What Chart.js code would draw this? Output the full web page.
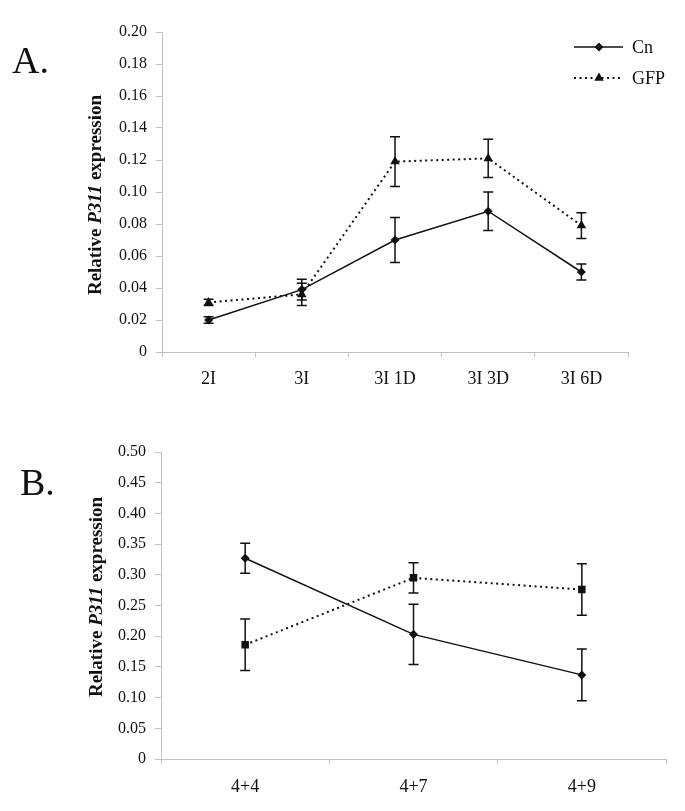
<!DOCTYPE html>
<html>
<head>
<meta charset="utf-8">
<script src="https://cdn.jsdelivr.net/npm/chart.js@4.4.0/dist/chart.umd.min.js"></script>
<style>
html,body{margin:0;padding:0;background:#fff;overflow:hidden;width:685px;height:811px}
#wa{position:absolute;left:0;top:0;width:685px;height:400px}
#wb{position:absolute;left:0;top:400px;width:685px;height:411px}
</style>
</head>
<body>
<div id="wa"><canvas id="ca"></canvas></div>
<div id="wb"><canvas id="cb"></canvas></div>
<script>
// ---------- DATA ----------
const seriesNames = ['Cn', 'GFP'];
const yTitleParts = ['Relative ', 'P311', ' expression'];
const panelLabels = ['A.', 'B.'];

const categoriesA = ['2I', '3I', '3I 1D', '3I 3D', '3I 6D'];
const cnA      = [0.020, 0.039, 0.070, 0.088, 0.050];
const cnAErr   = [0.002, 0.0065, 0.014, 0.012, 0.005];
const gfpA     = [0.031, 0.036, 0.119, 0.121, 0.079];
const gfpAErr  = [0.002, 0.007, 0.0155, 0.012, 0.008];
const yTicksA      = [0, 0.02, 0.04, 0.06, 0.08, 0.10, 0.12, 0.14, 0.16, 0.18, 0.20];
const yTickLabelsA = ['0', '0.02', '0.04', '0.06', '0.08', '0.10', '0.12', '0.14', '0.16', '0.18', '0.20'];

const categoriesB = ['4+4', '4+7', '4+9'];
const cnB      = [0.327, 0.203, 0.137];
const cnBErr   = [0.0245, 0.049, 0.042];
const gfpB     = [0.186, 0.295, 0.276];
const gfpBErr  = [0.042, 0.0245, 0.042];
const yTicksB      = [0, 0.05, 0.10, 0.15, 0.20, 0.25, 0.30, 0.35, 0.40, 0.45, 0.50];
const yTickLabelsB = ['0', '0.05', '0.10', '0.15', '0.20', '0.25', '0.30', '0.35', '0.40', '0.45', '0.50'];

// ---------- STYLE ----------
const SERIF = "'Liberation Serif', 'Times New Roman', serif";
const AXIS = '#c0c0c0';
const INK = '#111';

const errorBarPlugin = {
  id: 'errorBars',
  afterDatasetsDraw(chart) {
    const ctx = chart.ctx, xs = chart.scales.x, ys = chart.scales.y;
    chart.data.datasets.forEach(ds => {
      if (!ds.errors) return;
      ctx.save();
      ctx.strokeStyle = INK; ctx.lineWidth = 1.5; ctx.setLineDash([]);
      ds.data.forEach((v, i) => {
        const e = ds.errors[i];
        const x = xs.getPixelForValue(i);
        const y1 = ys.getPixelForValue(v + e), y2 = ys.getPixelForValue(v - e);
        ctx.beginPath();
        ctx.moveTo(x, y1); ctx.lineTo(x, y2);
        ctx.moveTo(x - 5, y1); ctx.lineTo(x + 5, y1);
        ctx.moveTo(x - 5, y2); ctx.lineTo(x + 5, y2);
        ctx.stroke();
      });
      ctx.restore();
    });
  }
};

const annotPlugin = {
  id: 'annot',
  afterDraw(chart, args, opts) {
    const ctx = chart.ctx;
    ctx.save();
    // panel label
    ctx.fillStyle = INK;
    ctx.font = '38px ' + SERIF;
    ctx.textBaseline = 'alphabetic';
    ctx.textAlign = 'left';
    ctx.fillText(opts.label, opts.labelX, opts.labelY);
    // y title with italic gene name
    const fonts = ['bold 19px ' + SERIF, 'italic bold 19px ' + SERIF, 'bold 19px ' + SERIF];
    let total = 0;
    const widths = yTitleParts.map((t, i) => { ctx.font = fonts[i]; const w = ctx.measureText(t).width; total += w; return w; });
    ctx.translate(opts.titleX, opts.titleY);
    ctx.rotate(-Math.PI / 2);
    ctx.textBaseline = 'middle';
    let x = -total / 2;
    yTitleParts.forEach((t, i) => { ctx.font = fonts[i]; ctx.fillText(t, x, 0); x += widths[i]; });
    ctx.restore();

    if (opts.legend) {
      const lx1 = 574, lx2 = 623, mx = 599, tx = 632;
      const rows = [{y: 47, dash: [], ds: chart.data.datasets[0]}, {y: 78, dash: [2, 3.5], ds: chart.data.datasets[1]}];
      rows.forEach(r => {
        ctx.save();
        ctx.strokeStyle = INK; ctx.lineWidth = r.dash.length ? 2 : 1.5; ctx.setLineDash(r.dash);
        ctx.beginPath(); ctx.moveTo(lx1, r.y); ctx.lineTo(lx2, r.y); ctx.stroke();
        ctx.setLineDash([]);
        ctx.fillStyle = INK;
        Chart.helpers.drawPoint(ctx, {pointStyle: r.ds.pointStyle, radius: r.ds.pointRadius, rotation: 0, borderWidth: 0}, mx, r.y);
        ctx.font = '18px ' + SERIF;
        ctx.textBaseline = 'middle';
        ctx.fillText(r.ds.label, tx, r.y + 1);
        ctx.restore();
      });
    }
  }
};

function makeChart(id, cfg) {
  const datasets = [
    {label: seriesNames[0], data: cfg.cn, errors: cfg.cnErr, borderColor: INK, borderWidth: 1.5,
     pointStyle: 'rectRot', pointRadius: 4.5, pointBackgroundColor: INK, pointBorderWidth: 0, tension: 0},
    {label: seriesNames[1], data: cfg.gfp, errors: cfg.gfpErr, borderColor: INK, borderWidth: 2, borderDash: [2, 3.5],
     pointStyle: cfg.gfpStyle, pointRadius: cfg.gfpRadius, pointBackgroundColor: INK, pointBorderWidth: 0, tension: 0}
  ];
  return new Chart(document.getElementById(id), {
    type: 'line',
    data: {labels: cfg.categories, datasets},
    options: {
      responsive: true, maintainAspectRatio: false, animation: false, devicePixelRatio: 1,
      layout: {padding: {left: 0, right: 685 - cfg.right, top: cfg.top, bottom: 0}},
      plugins: {legend: {display: false}, tooltip: {enabled: false},
        annot: {label: cfg.label, labelX: cfg.labelX, labelY: cfg.labelY, titleX: cfg.titleX, titleY: cfg.titleY, legend: cfg.legend}},
      scales: {
        x: {
          type: 'category', offset: true,
          grid: {display: true, offset: true, drawOnChartArea: false, drawTicks: true, tickLength: 5, color: AXIS, lineWidth: 1},
          border: {display: true, color: AXIS, width: 1},
          ticks: {color: INK, font: {family: SERIF, size: 18}, padding: cfg.xPad, maxRotation: 0, autoSkip: false},
          afterFit: s => { s.height = cfg.height - cfg.bottom; }
        },
        y: {
          min: cfg.yTicks[0], max: cfg.yTicks[cfg.yTicks.length - 1],
          afterBuildTicks: s => { s.ticks = cfg.yTicks.map(v => ({value: v})); },
          grid: {display: true, drawOnChartArea: false, drawTicks: true, tickLength: 6, color: AXIS, lineWidth: 1},
          border: {display: true, color: AXIS, width: 1},
          ticks: {color: INK, font: {family: SERIF, size: 16}, padding: 9,
                  callback: (v, i) => cfg.yLabels[i]},
          afterFit: s => { s.width = cfg.left; }
        }
      }
    },
    plugins: [errorBarPlugin, annotPlugin]
  });
}

makeChart('ca', {
  categories: categoriesA, cn: cnA, cnErr: cnAErr, gfp: gfpA, gfpErr: gfpAErr,
  gfpStyle: 'triangle', gfpRadius: 5.5,
  yTicks: yTicksA, yLabels: yTickLabelsA,
  left: 162, right: 628, top: 32, bottom: 352, height: 400, xPad: 11,
  label: panelLabels[0], labelX: 12, labelY: 73, titleX: 96, titleY: 195, legend: true
});
makeChart('cb', {
  categories: categoriesB, cn: cnB, cnErr: cnBErr, gfp: gfpB, gfpErr: gfpBErr,
  gfpStyle: 'rect', gfpRadius: 5.3,
  yTicks: yTicksB, yLabels: yTickLabelsB,
  left: 161, right: 666, top: 52, bottom: 359, height: 411, xPad: 12,
  label: panelLabels[1], labelX: 20, labelY: 95, titleX: 97, titleY: 197, legend: false
});
</script>
</body>
</html>
